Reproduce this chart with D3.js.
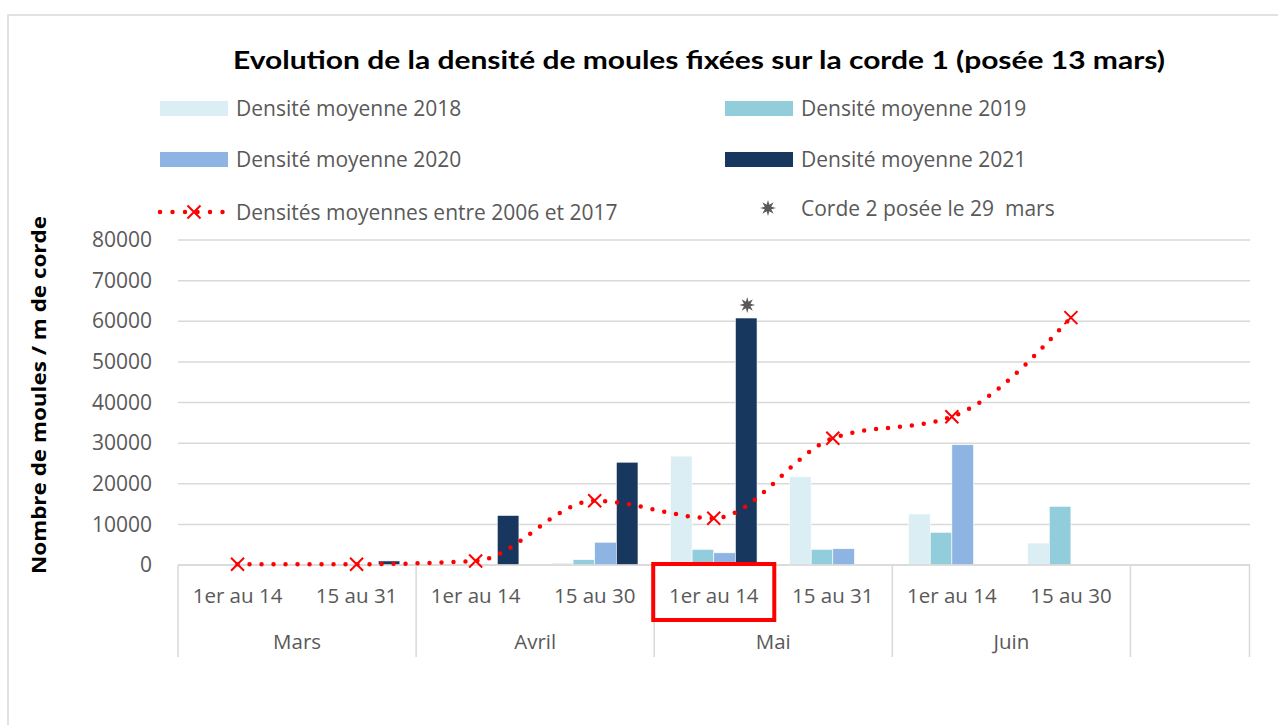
<!DOCTYPE html>
<html>
<head>
<meta charset="utf-8">
<script src="https://cdn.jsdelivr.net/npm/d3@7"></script>
<style>
  body { margin: 0; background: #fff; }
  text { font-family: "Open Sans", Lato, sans-serif; }
</style>
</head>
<body>
<svg id="chart" width="1278" height="725"></svg>
<script>
// sous-périodes (la dernière catégorie est vide)
const periods = ["1er au 14", "15 au 31", "1er au 14", "15 au 30", "1er au 14", "15 au 31", "1er au 14", "15 au 30", ""];
const months = ["Mars", "Avril", "Mai", "Juin", ""];
const monthSpan = [2, 2, 2, 2, 1];

const series = ["2018", "2019", "2020", "2021"];
const d2018 = [0, 0, 0, 500, 26800, 21700, 12550, 5400, null];
const d2019 = [0, 0, 0, 1300, 3850, 3850, 8050, 14450, null];
const d2020 = [0, 0, 0, 5600, 3000, 4000, 29600, null, null];
const d2021 = [0, 1000, 12200, 25300, 60800, null, null, null, null];
const avg0617 = [200, 200, 1000, 15800, 11500, 31200, 36500, 60900];
const corde2 = [null, null, null, null, 64000, null, null, null, null];

const colors = {"2018": "#DAEEF3", "2019": "#92CDDC", "2020": "#8EB4E3", "2021": "#17375E"};
const values = {"2018": d2018, "2019": d2019, "2020": d2020, "2021": d2021};
const yTicks = [0, 10000, 20000, 30000, 40000, 50000, 60000, 70000, 80000];

const svg = d3.select("#chart");
const grey = "#595959";

// cadre du graphique
svg.append("rect")
    .attr("x", 8).attr("y", 15)
    .attr("width", 1300).attr("height", 740)
    .attr("fill", "#fff")
    .attr("stroke", "#D9D9D9")
    .attr("stroke-width", 1.5);

const x = d3.scaleBand().domain(d3.range(periods.length)).range([178, 1249.5]).padding(0);
const xBar = d3.scaleBand().domain(series).range([0, x.bandwidth()]).paddingInner(0).paddingOuter(0.75);
const y = d3.scaleLinear().domain([0, 80000]).range([565, 240]);

// titre
svg.append("text")
    .attr("x", 699).attr("y", 69)
    .attr("text-anchor", "middle")
    .style("font-family", "Lato, sans-serif")
    .style("font-size", "25px")
    .style("font-weight", "bold")
    .attr("fill", "#000")
    .attr("textLength", 932)
    .attr("lengthAdjust", "spacingAndGlyphs")
    .text("Evolution de la densité de moules fixées sur la corde 1 (posée 13 mars)");

// grille
svg.append("g").selectAll("line")
    .data(yTicks)
    .join("line")
    .attr("x1", 178).attr("x2", 1250)
    .attr("y1", d => y(d)).attr("y2", d => y(d))
    .attr("stroke", "#D9D9D9")
    .attr("stroke-width", 1.5);

// axe Y
const yAxis = svg.append("g")
    .attr("transform", "translate(160,0)")
    .call(d3.axisLeft(y).tickValues(yTicks).tickSize(0).tickFormat(d3.format("d")));
yAxis.select(".domain").remove();
yAxis.selectAll("text")
    .attr("fill", grey)
    .style("font-size", "21px")
    .attr("dx", "-5");

svg.append("text")
    .attr("transform", "translate(46,395) rotate(-90)")
    .attr("text-anchor", "middle")
    .style("font-size", "20px")
    .style("font-weight", "bold")
    .attr("fill", "#000")
    .attr("textLength", 358)
    .attr("lengthAdjust", "spacingAndGlyphs")
    .text("Nombre de moules / m de corde");

// barres
series.forEach(function (s) {
    svg.append("g").selectAll("rect")
        .data(values[s].map((v, i) => ({i: i, v: v})).filter(d => d.v !== null && d.v > 0))
        .join("rect")
        .attr("x", d => x(d.i) + xBar(s))
        .attr("y", d => y(d.v))
        .attr("width", xBar.bandwidth())
        .attr("height", d => y(0) - y(d.v))
        .attr("fill", colors[s])
        .attr("stroke", "#fff")
        .attr("stroke-width", 0.6);
});

// axe X (multi-niveaux)
svg.append("line")
    .attr("x1", 178).attr("x2", 1250)
    .attr("y1", y(0)).attr("y2", y(0))
    .attr("stroke", "#D9D9D9").attr("stroke-width", 1.5);

let bounds = [0];
monthSpan.forEach(n => bounds.push(bounds[bounds.length - 1] + n));
svg.append("g").selectAll("line")
    .data(bounds)
    .join("line")
    .attr("x1", d => d < periods.length ? x(d) : x.range()[1])
    .attr("x2", d => d < periods.length ? x(d) : x.range()[1])
    .attr("y1", y(0)).attr("y2", 657)
    .attr("stroke", "#D9D9D9").attr("stroke-width", 1.5);

svg.append("g").selectAll("text")
    .data(periods)
    .join("text")
    .attr("x", (d, i) => x(i) + x.bandwidth() / 2)
    .attr("y", 603)
    .attr("text-anchor", "middle")
    .attr("fill", grey)
    .style("font-size", "20.5px")
    .text(d => d);

svg.append("g").selectAll("text")
    .data(months)
    .join("text")
    .attr("x", (d, i) => (x(bounds[i]) + (bounds[i + 1] < periods.length ? x(bounds[i + 1]) : x.range()[1])) / 2)
    .attr("y", 649)
    .attr("text-anchor", "middle")
    .attr("fill", grey)
    .style("font-size", "20.5px")
    .text(d => d);

// cadre rouge autour de "1er au 14" de mai
svg.append("rect")
    .attr("x", x(4) - 1).attr("y", y(0) - 1)
    .attr("width", x.bandwidth() + 2).attr("height", 56)
    .attr("fill", "none")
    .attr("stroke", "#FF0000")
    .attr("stroke-width", 4);

// courbe des moyennes 2006-2017
const line = d3.line()
    .x((d, i) => x(i) + x.bandwidth() / 2)
    .y(d => y(d))
    .curve(d3.curveMonotoneX);

svg.append("path")
    .datum(avg0617)
    .attr("d", line)
    .attr("fill", "none")
    .attr("stroke", "#FF0000")
    .attr("stroke-width", 4.5)
    .attr("stroke-linecap", "round")
    .attr("stroke-dasharray", "0 12");

function cross(g, cx, cy, r) {
    g.append("path")
        .attr("d", "M" + (cx - r) + "," + (cy - r) + "L" + (cx + r) + "," + (cy + r) +
            "M" + (cx - r) + "," + (cy + r) + "L" + (cx + r) + "," + (cy - r))
        .attr("stroke", "#FF0000")
        .attr("stroke-width", 2)
        .attr("fill", "none");
}

const marks = svg.append("g");
avg0617.forEach((v, i) => cross(marks, x(i) + x.bandwidth() / 2, y(v), 6.5));

// étoile (corde 2)
function starPath(r1, r2, n) {
    let pts = [];
    for (let k = 0; k < n * 2; k++) {
        let a = Math.PI * k / n - Math.PI / 2;
        let r = k % 2 === 0 ? r1 : r2;
        pts.push([Math.cos(a) * r, Math.sin(a) * r]);
    }
    return "M" + pts.map(p => p.join(",")).join("L") + "Z";
}

svg.append("g").selectAll("path")
    .data(corde2.map((v, i) => ({i: i, v: v})).filter(d => d.v !== null))
    .join("path")
    .attr("transform", d => "translate(" + (x(d.i) + xBar("2021") + xBar.bandwidth() / 2 + 1) + "," + y(d.v) + ")")
    .attr("d", starPath(8, 3.5, 8))
    .attr("fill", grey);

// légende
const leg = svg.append("g");
const legItems = [
    {s: "2018", x: 160, y: 108},
    {s: "2019", x: 725, y: 108},
    {s: "2020", x: 160, y: 159},
    {s: "2021", x: 725, y: 159}
];
legItems.forEach(function (d) {
    leg.append("rect")
        .attr("x", d.x).attr("y", d.y - 7)
        .attr("width", 68).attr("height", 15)
        .attr("fill", colors[d.s]);
    leg.append("text")
        .attr("x", d.x + 76).attr("y", d.y + 7.5)
        .attr("fill", grey)
        .style("font-size", "21px")
        .text("Densité moyenne " + d.s);
});

leg.append("line")
    .attr("x1", 160).attr("x2", 226)
    .attr("y1", 212).attr("y2", 212)
    .attr("stroke", "#FF0000")
    .attr("stroke-width", 4.5)
    .attr("stroke-linecap", "round")
    .attr("stroke-dasharray", "0 12.5");
cross(leg, 194, 212, 6.5);
leg.append("text")
    .attr("x", 236).attr("y", 219.5)
    .attr("fill", grey)
    .style("font-size", "21px")
    .text("Densités moyennes entre 2006 et 2017");

leg.append("path")
    .attr("transform", "translate(768,208)")
    .attr("d", starPath(8, 3.5, 8))
    .attr("fill", grey);
leg.append("text")
    .attr("x", 801).attr("y", 215.5)
    .attr("fill", grey)
    .style("font-size", "21px")
    .style("white-space", "pre")
    .text("Corde 2 posée le 29  mars");
</script>
</body>
</html>
